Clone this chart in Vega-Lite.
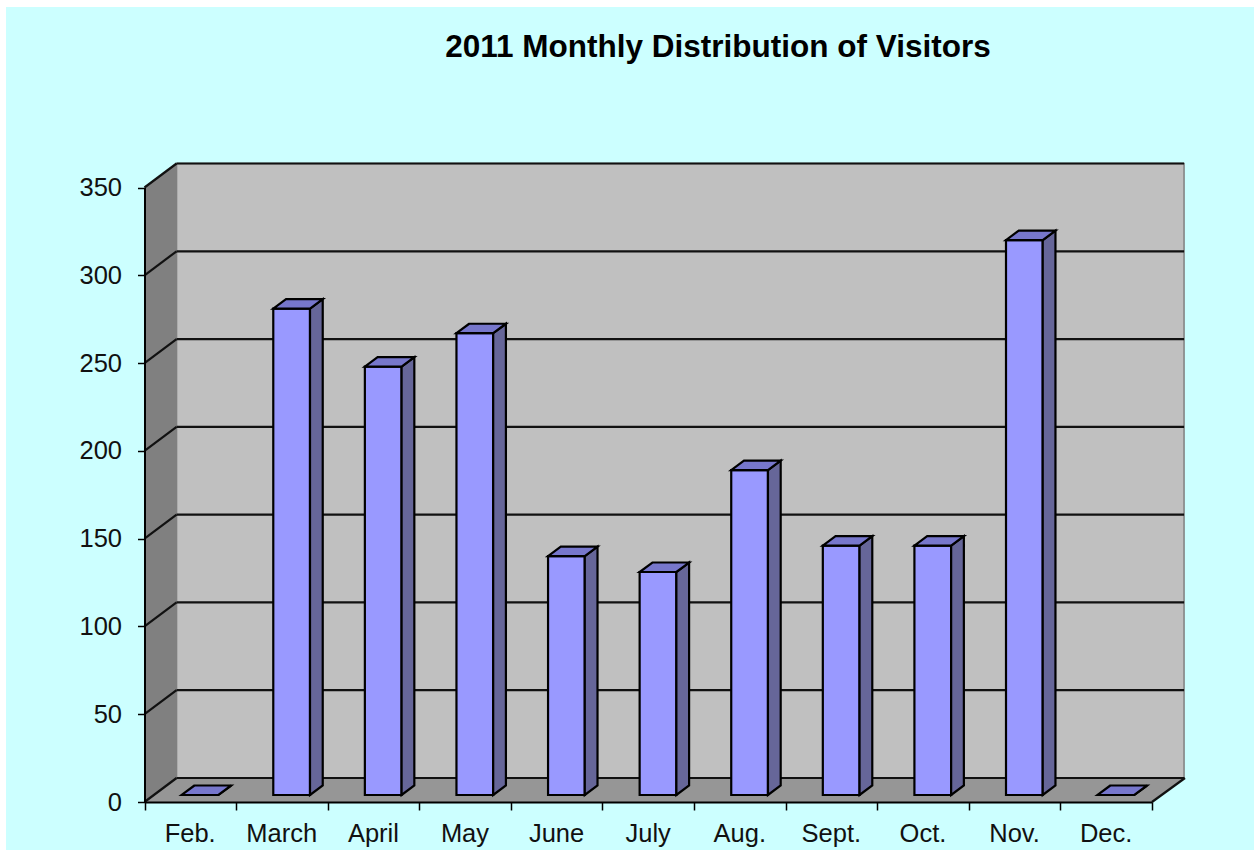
{
  "$schema": "https://vega.github.io/schema/vega-lite/v6.json",
  "width": 1248,
  "height": 843,
  "autosize": {"type": "none"},
  "padding": {"left": 6, "top": 7, "right": 0, "bottom": 2},
  "background": "#ffffff",
  "view": {"fill": "#ccffff", "stroke": null},
  "title": {
    "text": "2011 Monthly Distribution of Visitors",
    "font": "Liberation Sans",
    "fontSize": 31.5,
    "fontWeight": "bold",
    "color": "#000000",
    "anchor": "middle",
    "dx": 88,
    "dy": 56,
    "offset": 0
  },
  "datasets": {
    "months": [
      {"month": "Feb.", "month_no": 2, "visitors": 0},
      {"month": "March", "month_no": 3, "visitors": 277},
      {"month": "April", "month_no": 4, "visitors": 244},
      {"month": "May", "month_no": 5, "visitors": 263},
      {"month": "June", "month_no": 6, "visitors": 136},
      {"month": "July", "month_no": 7, "visitors": 127},
      {"month": "Aug.", "month_no": 8, "visitors": 185},
      {"month": "Sept.", "month_no": 9, "visitors": 142},
      {"month": "Oct.", "month_no": 10, "visitors": 142},
      {"month": "Nov.", "month_no": 11, "visitors": 316},
      {"month": "Dec.", "month_no": 12, "visitors": 0}
    ],
    "ticks": [
      {"tick": 0}, {"tick": 50}, {"tick": 100}, {"tick": 150},
      {"tick": 200}, {"tick": 250}, {"tick": 300}, {"tick": 350}
    ],
    "depths": [{"depth": 0}, {"depth": 1}]
  },
  "encoding": {},
  "layer": [
    {
      "data": {"values": [{}]},
      "mark": {"type": "rect", "stroke": "#808080", "strokeWidth": 1.5, "fill": "#c0c0c0"},
      "encoding": {
        "x": {
          "datum": 1.85, "type": "quantitative",
          "scale": {"domain": [1.5, 12.5], "range": [138.5, 1146], "nice": false, "zero": false},
          "axis": {
            "values": [1.5, 2.5, 3.5, 4.5, 5.5, 6.5, 7.5, 8.5, 9.5, 10.5, 11.5, 12.5],
            "labelExpr": "['Feb.','March','April','May','June','July','Aug.','Sept.','Oct.','Nov.','Dec.',''][datum.value-1.5]",
            "title": null,
            "grid": false,
            "offset": -48,
            "zindex": 1,
            "domainColor": "#000000",
            "domainWidth": 2,
            "tickColor": "#000000",
            "tickWidth": 1.5,
            "tickSize": 8,
            "labelFont": "Liberation Sans",
            "labelFontSize": 25.5,
            "labelColor": "#111111",
            "labelPadding": 11,
            "labelOffset": 45.2,
            "labelAlign": "center",
            "labelBound": false,
            "labelFlush": false,
            "labelOverlap": false
          }
        },
        "x2": {"datum": 12.85},
        "y": {
          "datum": 13.67, "type": "quantitative",
          "scale": {"domain": [0, 350], "range": [795, 180.5], "nice": false, "zero": false},
          "axis": {
            "values": [0, 50, 100, 150, 200, 250, 300, 350],
            "title": null,
            "grid": false,
            "offset": -138.5,
            "zindex": 1,
            "domainColor": "#000000",
            "domainWidth": 2,
            "tickColor": "#000000",
            "tickWidth": 1.5,
            "tickSize": 7,
            "labelFont": "Liberation Sans",
            "labelFontSize": 25.5,
            "labelColor": "#111111",
            "labelPadding": 16,
            "labelBound": false,
            "labelFlush": false,
            "labelOverlap": false
          }
        },
        "y2": {"datum": 363.67}
      }
    },
    {
      "data": {"name": "depths"},
      "transform": [
        {"calculate": "1.5+0.35*datum.depth", "as": "wx"},
        {"calculate": "13.67*datum.depth", "as": "wlow"},
        {"calculate": "350+13.67*datum.depth", "as": "whigh"}
      ],
      "mark": {"type": "area", "fill": "#808080", "opacity": 1},
      "encoding": {
        "x": {"field": "wx", "type": "quantitative"},
        "y": {"field": "whigh", "type": "quantitative"},
        "y2": {"field": "wlow"}
      }
    },
    {
      "data": {"name": "depths"},
      "transform": [
        {"calculate": "1.5+0.35*datum.depth", "as": "fx"},
        {"calculate": "12.5+0.36*datum.depth", "as": "fx2"},
        {"calculate": "13.67*datum.depth", "as": "fy"}
      ],
      "mark": {"type": "area", "orient": "horizontal", "fill": "#969696", "opacity": 1},
      "encoding": {
        "y": {"field": "fy", "type": "quantitative"},
        "x": {"field": "fx", "type": "quantitative"},
        "x2": {"field": "fx2"}
      }
    },
    {
      "data": {"name": "ticks"},
      "transform": [{"calculate": "datum.tick+13.67", "as": "back"}],
      "mark": {"type": "rule", "color": "#111111", "strokeWidth": 2.2},
      "encoding": {
        "x": {"datum": 1.85, "type": "quantitative"},
        "x2": {"datum": 12.85},
        "y": {"field": "back", "type": "quantitative"}
      }
    },
    {
      "data": {"name": "ticks"},
      "transform": [{"calculate": "datum.tick+13.67", "as": "back"}],
      "mark": {"type": "rule", "color": "#111111", "strokeWidth": 2.2},
      "encoding": {
        "x": {"datum": 1.5, "type": "quantitative"},
        "x2": {"datum": 1.85},
        "y": {"field": "tick", "type": "quantitative"},
        "y2": {"field": "back"}
      }
    },
    {
      "data": {"values": [{}]},
      "mark": {"type": "rule", "color": "#111111", "strokeWidth": 2.2},
      "encoding": {
        "x": {"datum": 12.5, "type": "quantitative"},
        "x2": {"datum": 12.86},
        "y": {"datum": 0, "type": "quantitative"},
        "y2": {"datum": 13.67}
      }
    },
    {
      "data": {"name": "months"},
      "transform": [
        {"calculate": "datum.month_no-0.094", "as": "bx"},
        {"calculate": "datum.month_no+0.307", "as": "bx2"},
        {"calculate": "datum.visitors+4", "as": "btop"}
      ],
      "mark": {"type": "rect", "fill": "#9999ff", "stroke": "#000000", "strokeWidth": 2.2},
      "encoding": {
        "x": {"field": "bx", "type": "quantitative"},
        "x2": {"field": "bx2"},
        "y": {"field": "btop", "type": "quantitative"},
        "y2": {"datum": 4}
      }
    },
    {
      "data": {"name": "months"},
      "transform": [
        {"calculate": "[0,1]", "as": "depth"},
        {"flatten": ["depth"]},
        {"calculate": "datum.month_no+0.307+0.139*datum.depth", "as": "sx"},
        {"calculate": "4+5.4*datum.depth", "as": "slow"},
        {"calculate": "datum.visitors+4+5.4*datum.depth", "as": "shigh"}
      ],
      "mark": {"type": "area", "fill": "#666699", "stroke": "#000000", "strokeWidth": 2.2, "opacity": 1},
      "encoding": {
        "x": {"field": "sx", "type": "quantitative"},
        "y": {"field": "shigh", "type": "quantitative"},
        "y2": {"field": "slow"},
        "detail": {"field": "month"}
      }
    },
    {
      "data": {"name": "months"},
      "transform": [
        {"calculate": "[0,1]", "as": "depth"},
        {"flatten": ["depth"]},
        {"calculate": "datum.month_no-0.094+0.139*datum.depth", "as": "tx"},
        {"calculate": "datum.month_no+0.307+0.139*datum.depth", "as": "tx2"},
        {"calculate": "datum.visitors+4+5.4*datum.depth", "as": "ty"}
      ],
      "mark": {"type": "area", "orient": "horizontal", "fill": "#7777cc", "stroke": "#000000", "strokeWidth": 2.2, "opacity": 1},
      "encoding": {
        "y": {"field": "ty", "type": "quantitative"},
        "x": {"field": "tx", "type": "quantitative"},
        "x2": {"field": "tx2"},
        "detail": {"field": "month"}
      }
    }
  ]
}
